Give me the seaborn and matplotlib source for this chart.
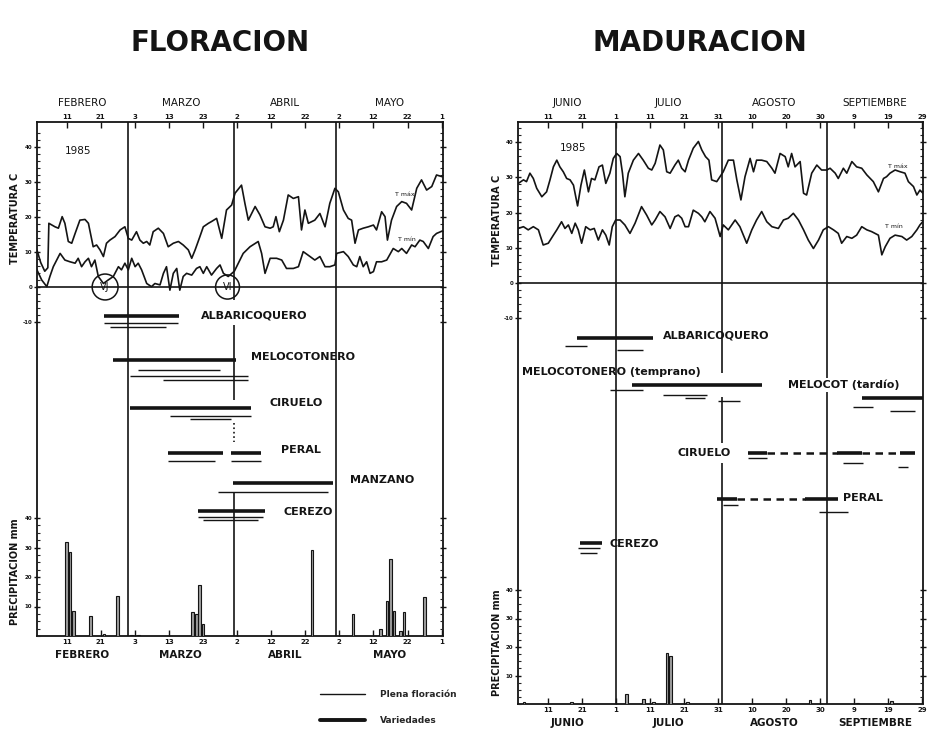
import numpy as np
import matplotlib
matplotlib.use("Agg")
import matplotlib.pyplot as plt
import seaborn as sns
from matplotlib.patches import Ellipse
from matplotlib.lines import Line2D
from matplotlib.ticker import FixedLocator

sns.set_style("white")
plt.rcParams['font.family'] = ['DejaVu Sans']

INK = "#141414"

# ---------------------------------------------------------------- DATA
# day index: left panel counts days from 1 Feb 1985, right panel from 1 Jun 1985
left_months = ["FEBRERO", "MARZO", "ABRIL", "MAYO"]
left_month_start = [1.3, 28, 59, 89]
left_month_end = [28, 59, 89, 120.3]
left_ticks = [10, 20, 30, 40, 50, 60, 70, 80, 90, 100, 110, 120]
left_tick_labels = ["11", "21", "3", "13", "23", "2", "12", "22", "2", "12", "22", "1"]

right_months = ["JUNIO", "JULIO", "AGOSTO", "SEPTIEMBRE"]
right_month_start = [1.2, 30, 61, 92]
right_month_end = [30, 61, 92, 120.2]
right_ticks = [10, 20, 30, 40, 50, 60, 70, 80, 90, 100, 110, 120]
right_tick_labels = ["11", "21", "1", "11", "21", "31", "10", "20", "30", "9", "19", "29"]

# Temperatures (deg C) - Floracion (Feb-May)
left_tmax_day = [1.3, 2.4, 3.6, 4.5, 4.8, 6.6, 7.6, 8.7, 9.5, 10.5, 11.5, 12.5, 13.9, 15.4, 16.4, 17.8,
                 18.8, 19.8, 20.8, 21.7, 22.7, 24.2, 25.7, 27.1, 28.1, 29.1, 30.5, 31.5, 32.5, 33.5, 34.4,
                 35.4, 36.9, 38.4, 39.8, 41.3, 42.8, 44.2, 45.7, 46.7, 47.7, 49.1, 50.1, 51.6, 52.5, 54.0,
                 55.5, 56.9, 58.4, 59.4, 61.3, 62.3, 63.3, 65.3, 66.7, 68.2, 69.7, 70.6, 71.4, 72.4, 73.6,
                 75.0, 76.5, 78.0, 78.9, 79.9, 80.9, 82.8, 84.3, 85.8, 87.2, 88.7, 89.7, 91.2, 92.6, 93.6,
                 94.6, 95.6, 97.0, 98.5, 100.0, 100.9, 102.4, 103.4, 104.1, 105.3, 106.8, 108.3, 109.7,
                 111.2, 112.7, 114.1, 115.6, 117.1, 118.5, 120.2]
left_tmax = [10.6, 7.0, 4.5, 5.5, 18.2, 17.2, 16.8, 20.1, 18.2, 13.0, 12.5, 15.3, 19.1, 19.3, 18.2, 11.5,
             12.0, 10.6, 8.7, 12.5, 13.4, 14.4, 16.3, 17.2, 13.9, 13.4, 15.8, 13.4, 12.5, 13.0, 12.0,
             15.8, 16.8, 15.3, 11.5, 12.5, 13.0, 12.0, 10.6, 8.2, 10.6, 14.4, 17.2, 18.2, 18.7, 19.6,
             13.9, 22.0, 23.4, 26.8, 29.1, 23.9, 19.1, 23.0, 20.6, 17.2, 16.8, 17.2, 20.1, 15.8, 19.1,
             26.3, 25.3, 25.8, 16.3, 22.0, 18.2, 19.1, 21.0, 17.2, 23.9, 28.2, 27.2, 22.0, 19.6, 19.1,
             12.5, 16.3, 16.8, 17.2, 17.7, 16.3, 21.5, 20.1, 13.4, 19.1, 23.0, 24.4, 23.9,
             22.0, 28.2, 30.6, 27.7, 28.7, 32.0, 31.5]
left_tmin_day = [1.3, 2.7, 4.2, 5.1, 6.1, 8.1, 9.5, 11.0, 12.5, 13.4, 14.4, 15.4, 16.4, 17.3, 18.3, 19.3,
                 20.8, 22.2, 23.7, 25.2, 26.1, 27.1, 28.1, 29.1, 30.1, 31.0, 32.0, 33.5, 34.9, 35.9, 37.4,
                 38.4, 39.3, 40.3, 41.3, 42.3, 43.2, 44.2, 45.2, 46.7, 48.1, 49.1, 50.1, 51.1, 52.5, 54.0,
                 55.0, 56.0, 57.4, 59.2, 61.8, 63.8, 66.2, 67.2, 68.2, 69.7, 71.6, 73.1, 74.5, 76.5, 78.0,
                 79.4, 81.4, 82.8, 84.3, 85.8, 87.2, 88.7, 89.2, 91.2, 92.6, 94.1, 95.1, 96.0, 97.0, 98.0,
                 99.0, 100.0, 100.9, 102.4, 103.9, 105.8, 107.3, 108.3, 109.7, 111.2, 112.2, 113.6, 114.6,
                 116.1, 117.5, 118.5, 120.2]
left_tmin = [4.9, 2.0, 0.1, 3.0, 5.8, 9.6, 7.7, 7.2, 6.8, 8.2, 5.8, 7.2, 8.2, 5.8, 7.7, 3.0,
             1.0, 2.0, 3.0, 5.8, 4.9, 6.8, 4.9, 8.2, 5.8, 6.8, 4.9, 1.0, 0.1, 1.0, 0.6,
             3.9, 5.8, -0.9, 3.9, 5.3, -0.9, 3.0, 3.9, 3.4, 5.3, 5.8, 3.9, 5.8, 3.4, 5.3,
             6.3, 3.9, 3.0, 4.5, 9.6, 11.5, 13.0, 9.6, 3.9, 8.2, 8.2, 7.7, 5.3, 5.3, 5.8,
             10.1, 8.7, 7.7, 8.7, 5.8, 5.8, 6.3, 9.6, 10.1, 8.7, 6.3, 5.8, 8.7, 5.8, 7.2,
             3.9, 4.4, 7.2, 7.2, 7.7, 11.0, 10.1, 11.0, 9.6, 12.0, 11.5, 13.4, 13.0,
             11.0, 14.4, 15.3, 16.0]

# Temperatures (deg C) - Maduracion (Jun-Sep)
right_tmax_day = [1.3, 2.8, 3.7, 4.7, 5.7, 6.7, 8.2, 9.6, 10.6, 11.6, 12.6, 13.5, 14.5, 15.5, 16.5, 17.5,
                  18.7, 19.7, 20.7, 21.9, 22.8, 23.8, 25.0, 26.0, 27.0, 28.2, 29.2, 30.2, 31.2, 31.9, 32.6,
                  33.6, 35.1, 36.6, 38.0, 39.5, 40.5, 41.5, 42.9, 43.9, 44.9, 45.9, 47.3, 48.3, 49.3, 50.3,
                  51.3, 52.7, 54.2, 55.2, 56.3, 57.3, 58.1, 59.6,
                  61.5, 63.0, 64.5, 65.5, 66.7, 67.9, 69.4, 70.4, 71.3, 72.8, 74.3, 75.8, 76.7, 78.2, 79.7,
                  80.6, 81.6, 82.6, 84.1, 85.1, 86.0, 87.5, 89.0, 90.4, 91.9, 92.9, 94.4, 95.3, 96.8, 97.8,
                  99.3, 100.7, 102.2, 103.7, 105.6, 107.1, 108.6, 109.5, 110.5, 112.0, 113.5, 114.9, 115.9,
                  117.4, 118.4, 119.3, 120.2]
right_tmax = [28.3, 29.3, 28.8, 31.2, 29.7, 26.9, 24.5, 25.9, 29.3, 33.0, 34.9, 33.0, 31.6, 29.7, 29.3, 27.8,
              21.9, 27.8, 32.1, 25.9, 29.7, 29.3, 33.0, 33.5, 28.3, 31.2, 35.4, 36.8, 35.9, 31.2, 24.5,
              31.2, 34.9, 36.8, 34.9, 32.6, 32.1, 34.0, 39.2, 37.8, 31.6, 31.2, 33.5, 34.9, 32.6, 31.6,
              34.9, 38.3, 40.2, 37.8, 35.9, 34.9, 29.3, 28.8,
              31.6, 34.9, 34.9, 29.3, 23.6, 30.2, 35.4, 31.6, 34.9, 34.9, 34.5, 32.6, 31.2, 36.8, 35.9,
              33.0, 36.8, 33.0, 34.5, 25.5, 25.0, 31.2, 33.5, 32.1, 32.1, 32.6, 31.2, 29.7, 32.6, 31.2,
              34.5, 33.0, 32.6, 30.7, 28.8, 25.9, 29.7, 30.2, 31.2, 32.1, 31.6, 31.2, 28.8,
              27.4, 25.0, 26.4, 25.5]
right_tmin_day = [1.3, 2.8, 4.2, 5.7, 7.2, 8.6, 10.1, 11.6, 12.6, 14.0, 15.0, 16.0, 17.0, 18.0, 18.9, 19.9,
                  21.1, 22.4, 23.6, 24.8, 26.0, 27.0, 28.0, 28.9, 29.9, 31.2, 32.6, 34.1, 35.6, 37.5, 39.0,
                  40.5, 41.5, 42.9, 44.4, 45.9, 47.3, 48.3, 49.3, 50.3, 51.3, 52.7, 54.2, 55.2, 56.1, 57.6,
                  59.1, 60.6,
                  61.5, 63.0, 65.0, 66.4, 68.4, 69.9, 71.3, 72.8, 74.3, 75.8, 77.7, 79.2, 80.6, 82.1, 83.6,
                  85.1, 86.5, 88.0, 89.5, 90.9, 92.4, 93.9, 95.3, 96.3, 97.8, 99.3, 100.7, 102.2, 103.7,
                  105.1, 107.1, 108.1, 109.1, 110.5, 112.0, 114.0, 115.4, 116.9, 118.4, 119.3, 120.2]
right_tmin = [15.5, 16.0, 15.1, 16.0, 15.1, 10.8, 11.3, 13.6, 15.1, 17.4, 15.5, 16.5, 14.1, 17.0, 15.1, 11.3,
              16.0, 15.1, 15.5, 12.2, 15.1, 13.6, 10.8, 16.0, 17.9, 17.9, 16.5, 14.1, 17.0, 21.7, 19.3,
              16.5, 17.9, 20.3, 18.8, 15.5, 18.8, 19.3, 18.4, 16.0, 16.0, 20.7, 19.8, 18.8, 17.4, 20.3,
              18.4, 13.2,
              16.5, 15.1, 17.9, 16.0, 11.3, 15.1, 17.9, 20.3, 17.4, 16.0, 15.5, 17.9, 18.4, 19.8, 17.9,
              15.1, 12.2, 9.8, 12.2, 15.1, 16.0, 15.1, 14.1, 11.3, 13.2, 12.7, 13.6, 16.0, 15.1,
              14.6, 13.6, 8.0, 10.3, 12.7, 13.6, 13.2, 12.2, 13.2, 15.1, 16.5, 17.5]

# Precipitation (mm)
left_rain_day = [10, 11, 12, 17, 21, 25, 29, 31, 47, 48, 49, 50, 82, 94, 102, 104, 105, 106, 108, 109, 115]
left_rain_mm = [31.8, 28.4, 8.5, 6.8, 0.6, 13.6, 0.5, 0.3, 8.0, 7.4, 17.4, 4.0, 29.0, 7.4, 2.3, 12.0,
                26.0, 8.5, 1.7, 8.0, 13.3]
right_rain_day = [3, 17, 33, 38, 41, 45, 46, 51, 87, 101, 111]
right_rain_mm = [0.8, 0.8, 3.4, 1.7, 0.6, 17.8, 16.7, 0.6, 1.5, 0.5, 1.0]

# Phenology periods (start day, end day)
left_species = ["ALBARICOQUERO", "MELOCOTONERO", "CIRUELO", "PERAL", "MANZANO", "CEREZO"]
left_var = [[(21.0, 42.9)], [(23.6, 59.8)], [(28.5, 64.2)], [(39.7, 55.9), (58.3, 67.1)],
            [(58.8, 88.1)], [(48.5, 68.1)]]
left_plena = [[(21.0, 42.7), (22.6, 39.2)], [(31.0, 54.9), (28.5, 63.2), (38.3, 63.2)],
              [(40.2, 64.2), (46.1, 58.3)], [(39.7, 53.4), (58.3, 67.1)], [(54.4, 86.7)],
              [(48.5, 67.6), (50.0, 66.1)]]
left_dash = [[], [], [], [], [], []]

right_species = ["ALBARICOQUERO", "MELOCOTONERO (temprano)", "MELOCOT (tardío)", "CIRUELO", "PERAL", "CEREZO"]
right_var = [[(18.4, 41.0)], [(34.6, 72.8)], [(102.2, 120.3)],
             [(68.9, 74.3), (94.8, 102.2), (113.5, 117.9)], [(59.6, 65.5), (85.5, 95.3)], [(19.4, 25.8)]]
right_plena = [[(15.0, 21.4), (30.2, 38.0)], [(28.2, 38.0), (43.9, 56.6), (50.3, 56.2), (60.1, 66.4)],
               [(99.7, 105.6), (110.5, 117.9)], [(68.9, 74.3), (96.8, 102.7), (113.0, 115.9)],
               [(61.3, 65.9), (89.5, 98.3)], [(18.8, 25.3), (19.4, 24.4)]]
right_dash = [[], [], [], [(74.3, 94.8), (102.2, 113.5)], [(65.5, 85.5)], []]

# ---------------------------------------------------------------- LAYOUT (pixels)
W, H = 931, 735
left_layout = dict(frame=(37, 122, 443, 636), xlim=(1.32, 120.4), tlim=(-99.71, 47.14), rain_top=518,
                   row_y=[316, 360, 408, 453, 483, 511],
                   plena_dy=[[7, 11], [10, 16, 20], [8, 11], [8, 8], [9], [6, 9]],
                   lab_x=[49.4, 64.1, 69.6, 72.9, 93.1, 73.5], lab_y=[315, 357, 403, 450, 480, 512],
                   vlines=[(28, [(122, 636)], '-'), (59, [(122, 300), (325, 400), (493, 636)], '-'),
                           (59, [(423, 442)], ':'), (89, [(122, 636)], '-')],
                   year=(9.5, 38.9), tlab=[(106.4, 26.5), (107.3, 13.5)])
right_layout = dict(frame=(518, 122, 923, 704), xlim=(1.2, 120.2), tlim=(-119.6, 45.74), rain_top=590,
                    row_y=[338, 385, 398, 453, 499, 543],
                    plena_dy=[[8, 12], [5, 10, 13, 16], [9, 13], [5, 10, 14], [6, 13], [5, 10]],
                    lab_x=[43.8, 2.4, 80.5, 48.2, 96.7, 28.2], lab_y=[335, 372, 385, 453, 498, 544],
                    vlines=[(30, [(122, 704)], '-'), (61, [(122, 373), (397, 443), (463, 704)], '-'),
                            (92, [(122, 378), (392, 704)], '-')],
                    year=(13.6, 38.4), tlab=[(110.0, 33.0), (109.0, 16.0)])


def rect(x0, y0, x1, y1):
    return [x0 / W, 1 - y1 / H, (x1 - x0) / W, (y1 - y0) / H]


fig = plt.figure(figsize=(W / 100, H / 100), dpi=100)
fig.patch.set_facecolor("white")

panels = [
    (left_layout, left_tmax_day, left_tmax, left_tmin_day, left_tmin, left_rain_day, left_rain_mm,
     left_species, left_var, left_plena, left_dash, left_months, left_month_start, left_month_end,
     left_ticks, left_tick_labels),
    (right_layout, right_tmax_day, right_tmax, right_tmin_day, right_tmin, right_rain_day, right_rain_mm,
     right_species, right_var, right_plena, right_dash, right_months, right_month_start, right_month_end,
     right_ticks, right_tick_labels),
]

for (L, txd, tx, tnd, tn, rd, rm, species, var, plena, dash, months, mstart, mend, ticks, tlabels) in panels:
    x0, y0, x1, y1 = L["frame"]
    # temperature axes = frame
    ax_t = fig.add_axes(rect(x0, y0, x1, y1))
    ax_t.set_facecolor("none")
    sns.lineplot(x=txd, y=tx, ax=ax_t, color=INK, linewidth=1.2, sort=False, estimator=None,
                 errorbar=None, legend=False)
    sns.lineplot(x=tnd, y=tn, ax=ax_t, color=INK, linewidth=1.2, sort=False, estimator=None,
                 errorbar=None, legend=False)
    ax_t.axhline(0, color=INK, lw=1.2)
    ax_t.set_xlim(*L["xlim"])
    ax_t.set_ylim(*L["tlim"])
    ax_t.set_xlabel("")
    ax_t.set_ylabel("")
    for s in ax_t.spines.values():
        s.set_visible(True)
        s.set_color(INK)
        s.set_linewidth(1.3)
    ax_t.set_xticks(ticks)
    ax_t.set_xticklabels(tlabels, fontsize=5, fontweight="bold")
    ax_t.tick_params(axis="x", which="major", direction="in", length=4, width=1, pad=1.5,
                     top=True, bottom=False, labeltop=True, labelbottom=False, colors=INK)
    ax_t.set_yticks([-10, 0, 10, 20, 30, 40])
    ax_t.set_yticklabels(["-10", "0", "10", "20", "30", "40"], fontsize=4, fontweight="bold")
    ax_t.yaxis.set_minor_locator(FixedLocator(np.arange(-10, 46, 2)))
    ax_t.tick_params(axis="y", which="major", direction="inout", length=5, width=1, pad=1,
                     left=True, right=True, labelright=False, colors=INK)
    ax_t.tick_params(axis="y", which="minor", direction="in", length=2.5, width=0.8,
                     left=True, right=True)
    # month names on top
    for name, a, b in zip(months, mstart, mend):
        ax_t.annotate(name, xy=((a + b) / 2, 1), xycoords=("data", "axes fraction"),
                      xytext=(0, 19), textcoords="offset pixels", ha="center", va="center",
                      fontsize=7.5, color=INK)
    ax_t.text(L["year"][0], L["year"][1], "1985", fontsize=7.5, color=INK, va="center")
    ax_t.text(L["tlab"][0][0], L["tlab"][0][1], "T máx", fontsize=4.5, color=INK, va="center")
    ax_t.text(L["tlab"][1][0], L["tlab"][1][1], "T mín", fontsize=4.5, color=INK, va="center")

    # precipitation axes
    ax_p = fig.add_axes(rect(x0, L["rain_top"], x1, y1))
    ax_p.set_facecolor("none")
    sns.barplot(x=rd, y=rm, ax=ax_p, native_scale=True, orient="x", color="#a0a0a0",
                edgecolor=INK, linewidth=0.8, errorbar=None, width=0.8)
    ax_p.set_xlim(*L["xlim"])
    ax_p.set_ylim(0, 40)
    ax_p.set_xlabel("")
    ax_p.set_ylabel("")
    for s in ax_p.spines.values():
        s.set_visible(False)
    ax_p.set_xticks(ticks)
    ax_p.set_xticklabels(tlabels, fontsize=5, fontweight="bold")
    ax_p.tick_params(axis="x", which="major", direction="in", length=4, width=1, pad=2,
                     bottom=True, top=False, colors=INK)
    ax_p.set_yticks([10, 20, 30, 40])
    ax_p.set_yticklabels(["10", "20", "30", "40"], fontsize=4, fontweight="bold")
    ax_p.yaxis.set_minor_locator(FixedLocator(np.arange(0, 41, 2.5)))
    ax_p.tick_params(axis="y", which="major", direction="inout", length=5, width=1, pad=1,
                     left=True, right=True, labelright=False, colors=INK)
    ax_p.tick_params(axis="y", which="minor", direction="in", length=2.5, width=0.8,
                     left=True, right=True)
    for name, a, b in zip(months, mstart, mend):
        ax_p.annotate(name, xy=((a + b) / 2, 0), xycoords=("data", "axes fraction"),
                      xytext=(0, -19), textcoords="offset pixels", ha="center", va="center",
                      fontsize=7.5, fontweight="bold", color=INK)

    # phenology overlay (y in pixel rows, downward)
    ax_ph = fig.add_axes(rect(x0, y0, x1, y1))
    ax_ph.set_facecolor("none")
    ax_ph.set_xlim(*L["xlim"])
    ax_ph.set_ylim(y1, y0)
    ax_ph.axis("off")
    for xd, segs, ls in L["vlines"]:
        for a, b in segs:
            ax_ph.plot([xd, xd], [a, b], color=INK, lw=1.2, ls=ls, solid_capstyle="butt")
    for i, name in enumerate(species):
        yb = L["row_y"][i]
        for s, e in var[i]:
            ax_ph.plot([s, e], [yb, yb], color=INK, lw=2.6, solid_capstyle="butt")
        for (s, e), dy in zip(plena[i], L["plena_dy"][i]):
            ax_ph.plot([s, e], [yb + dy, yb + dy], color=INK, lw=1.0, solid_capstyle="butt")
        for s, e in dash[i]:
            ax_ph.plot([s, e], [yb, yb], color=INK, lw=1.8, ls=(0, (3, 2.2)))
        ax_ph.text(L["lab_x"][i], L["lab_y"][i], name, ha="left", va="center", fontsize=8,
                   fontweight="bold", color=INK)

    if L is left_layout:
        ax_t.add_patch(Ellipse((21.3, 0), 7.6, 7.4, fill=False, lw=1.1, color=INK))
        ax_t.text(21.3, 0, "VJ", ha="center", va="center", fontsize=7, color=INK)
        ax_t.add_patch(Ellipse((57.2, 0), 7.0, 6.9, fill=False, lw=1.1, color=INK))
        ax_t.text(57.2, 0, "VI", ha="center", va="center", fontsize=7, color=INK)

# titles and axis captions
fig.text(220 / W, 1 - 43 / H, "FLORACION", ha="center", va="center", fontsize=20, fontweight="bold",
         color=INK)
fig.text(700 / W, 1 - 43 / H, "MADURACION", ha="center", va="center", fontsize=20, fontweight="bold",
         color=INK)
for xp, yp, txt in [(15, 218, "TEMPERATURA C"), (497, 220, "TEMPERATURA C"),
                    (15, 572, "PRECIPITACION mm"), (497, 643, "PRECIPITACION mm")]:
    fig.text(xp / W, 1 - yp / H, txt, rotation=90, ha="center", va="center", fontsize=7,
             fontweight="bold", color=INK)

handles = [Line2D([], [], color=INK, lw=1.0), Line2D([], [], color=INK, lw=2.8)]
fig.legend(handles, ["Plena floración", "Variedades"], loc="upper left",
           bbox_to_anchor=(312 / W, 1 - 682 / H), frameon=False,
           prop={"size": 6.5, "weight": "bold"}, handlelength=5, handletextpad=1.6, labelspacing=1.9)

fig.savefig("out.png", dpi=100, facecolor="white")
